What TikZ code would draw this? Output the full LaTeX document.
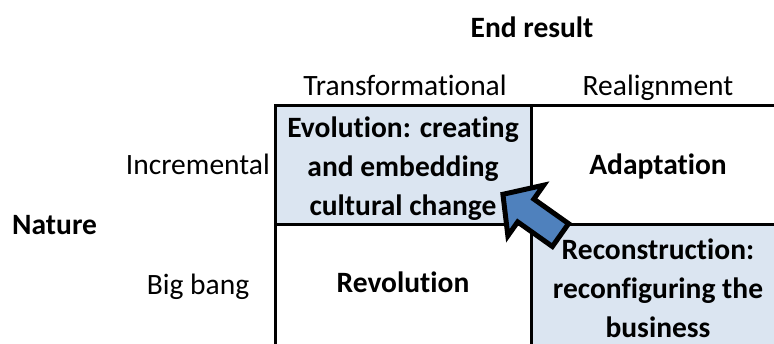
\documentclass[tikz,border=0pt]{standalone}
\usepackage{fontspec}
\setmainfont{Carlito}[Ligatures=NoCommon]
\usetikzlibrary{positioning}
\definecolor{cellblue}{HTML}{DBE5F1}
\definecolor{arrowblue}{HTML}{4F81BD}
\begin{document}
\begin{tikzpicture}[
    x=1pt, y=-1pt,
    lbl/.style={font=\fontsize{29.5}{39}\selectfont, inner sep=0pt},
    head/.style={font=\fontsize{29.5}{39}\selectfont\bfseries, inner sep=0pt},
    cell/.style={font=\fontsize{29.5}{39}\selectfont\bfseries, align=center, inner sep=0pt},
    grid/.style={line width=3pt},
    bigarrow/.style={fill=arrowblue, draw=black, line width=5pt, line join=miter}
  ]
  \useasboundingbox (0,0) rectangle (774,344);

  % shaded cells
  \fill[cellblue] (275,106) rectangle (531,225);
  \fill[cellblue] (531,225) rectangle (774,344);

  % grid lines
  \draw[grid] (275,344) -- (275,106) -- (774,106);
  \draw[grid] (275,225) -- (774,225);
  \draw[grid] (531,106) -- (531,344);

  % axis headings
  \node[head, anchor=base] (endres) at (532,38) {End result};
  \node[head, anchor=base west] (nature) at (12,235) {Nature};

  % column and row labels
  \node[lbl, anchor=base] (trans) at (405,96) {Transformational};
  \node[lbl, anchor=base] (realign) at (658,96) {Realignment};
  \node[lbl, anchor=base east] (incr) at (270,175) {Incremental};
  \node[lbl, anchor=base] (bigbang) at (198,295) {Big bang};

  % cell texts
  \node[cell] (evo) at (403,169) {Evolution: creating\\and embedding\\cultural change};
  \node[cell, anchor=base] (adapt) at (658,175) {Adaptation};
  \node[cell, anchor=base] (revo) at (403,293) {Revolution};
  \node[cell] (recon) at (658,288) {Reconstruction:\\reconfiguring the\\business};

  % block arrow from bottom right to top left
  \begin{scope}[shift={(562.5,236.5)}, rotate=144.7]
    \draw[bigarrow] (2.5,-14) -- (45,-14) -- (45,-31) -- (73,0)
      -- (45,31) -- (45,14) -- (2.5,14) -- cycle;
  \end{scope}
\end{tikzpicture}
\end{document}
